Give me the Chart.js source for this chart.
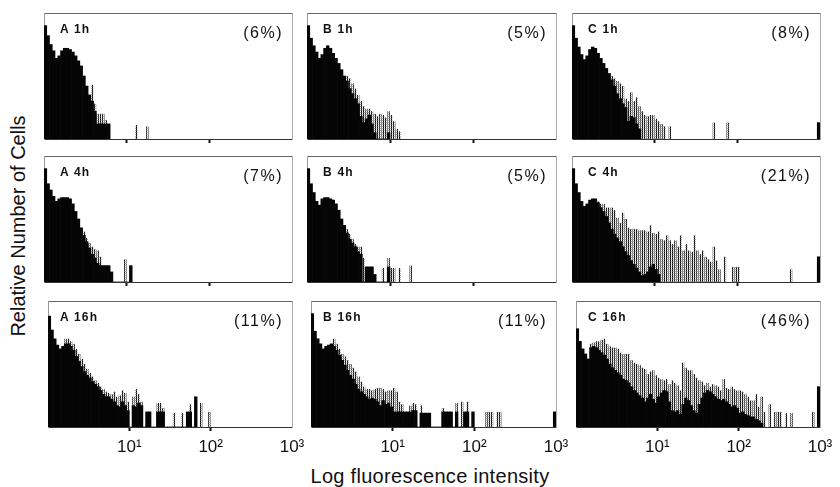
<!DOCTYPE html>
<html>
<head>
<meta charset="utf-8">
<script src="https://cdn.jsdelivr.net/npm/chart.js@4.4.1/dist/chart.umd.min.js"></script>
<style>
  body { margin: 0; background: #fff; }
  #page { position: relative; width: 840px; height: 487px; overflow: hidden; background: #fff; font-family: "Liberation Sans", Arial, sans-serif; color: #111; }
  .panel { position: absolute; }
  .name { position: absolute; font-size: 12px; font-weight: bold; line-height: 12px; letter-spacing: 1.2px; white-space: nowrap; }
  .pct { position: absolute; font-size: 16px; line-height: 16px; letter-spacing: 1.5px; white-space: nowrap; text-align: right; }
  #ytitle { position: absolute; left: 18px; top: 226px; transform: translate(-50%, -50%) rotate(-90deg); font-size: 20px; white-space: nowrap; }
  #xtitle { position: absolute; left: 430px; top: 466px; transform: translateX(-50%); font-size: 20px; line-height: 20px; letter-spacing: 0.3px; white-space: nowrap; }
</style>
</head>
<body>
<div id="page">
  <div id="ytitle">Relative Number of Cells</div>
  <div id="xtitle">Log fluorescence intensity</div>
</div>
<script>
// histogram channels: 30 bins per decade, 3 decades (10^0 .. 10^3)
const BINS_PER_DECADE = 30;
const LAST_BIN = 89;

const tickValues = [1, 2, 3];
const tickLabels = ['10¹', '10²', '10³'];

const panelNames = ['A 1h', 'B 1h', 'C 1h', 'A 4h', 'B 4h', 'C 4h', 'A 16h', 'B 16h', 'C 16h'];
const percentLabels = ['(6%)', '(5%)', '(8%)', '(7%)', '(5%)', '(21%)', '(11%)', '(11%)', '(46%)'];

// heights in % of panel height; "solid" = black part, "dots" = stippled total height
const a1hSolid = [90,82,75,70,64,66,70,72,72,71, 69,66,62,58,50,42,35,30,22,12, 12,12,12,12];
const a1hDots  = [0,0,0,0,0,0,0,0,0,0, 0,0,0,0,0,0,0,43,28,20, 20,20,15,0,0,0,0,0,0,0, 0,0,0,11,0,0,0,10];

const b1hSolid = [90,80,74,69,64,67,72,74,72,68, 64,60,55,50,46,40,36,32,28,18, 13,16,19,12,5,0,0,0,0,5];
const b1hDots  = [0,0,0,0,0,0,0,0,0,0, 0,0,0,0,50,48,44,40,35,30, 26,24,24,22,20,18,20,19,17,22, 19,14,8,6];

const c1hSolid = [90,80,73,67,63,66,71,73,72,68, 64,60,56,52,47,42,36,32,28,25, 14,18,17,12,8];
const c1hDots  = [0,0,0,0,0,0,0,0,0,0, 0,0,0,0,50,48,46,44,42,32, 30,37,30,33,26,22,19,18,19,19,
                  16,14,12,10,0,10,0,0,0,0, 0,0,0,0,0,0,0,0,0,0, 0,13,0,0,0,0,13];

const a4hSolid = [90,78,73,68,64,66,67,67,67,66, 62,56,50,43,37,32,27,22,19,15, 13,13,13,13,8,0,0,0,0,0, 0,13];
const a4hDots  = [0,0,0,0,0,0,0,0,0,0, 0,0,0,0,40,35,31,28,26,25, 20,0,0,0,0,0,0,0,0,18];

const b4hSolid = [90,78,71,64,61,66,67,67,66,65, 62,57,50,45,39,34,31,28,24,22, 0,12,12,12,6,0,0,0,0,12];
const b4hDots  = [0,0,0,0,0,0,0,0,0,0, 0,0,0,0,42,38,34,30,28,28, 19,0,0,0,0,0,0,11,0,19, 11,11,0,11,0,0,0,13];

const c4hSolid = [90,78,71,64,60,62,65,66,66,63, 59,56,52,47,42,38,35,32,28,24, 21,17,14,11,8,5,6,8,12,14, 10,6];
const c4hDots  = [0,0,0,0,0,0,0,0,0,64, 62,62,59,59,59,57,51,47,55,50, 43,42,42,42,41,41,41,40,45,39,
                  38,40,34,33,37,33,30,33,28,37, 25,30,25,24,37,25,22,25,20,18, 16,28,17,10,0,20,0,0,12,12,
                  12,0,0,0,0,0,0,0,0,0, 0,0,0,0,0,0,0,0,0,10];

const a16hSolid = [88,77,70,65,62,64,66,66,64,61, 56,52,48,44,41,39,36,34,32,29, 26,24,24,22,20,17,16,20,17,13,
                   0,17,16,19,17,0,12,12,0,0, 12,12,12,0,0,0,0,0,0,0, 0,12,12,0,24];
const a16hDots  = [0,0,0,0,0,0,70,70,68,66, 62,58,54,50,46,43,40,37,35,32, 30,28,27,26,28,24,25,29,27,20,
                   0,24,30,26,20,0,0,0,0,0, 19,19,15,0,0,0,11,0,0,11, 0,0,18,0,0,0,19,0,0,12];

const b16hSolid = [90,76,70,66,62,64,65,66,64,61, 57,53,49,45,41,38,34,30,28,26, 24,22,23,22,20,17,21,18,19,16,
                   12,12,12,12,12,12,12,13,13,0, 11,11,11,11,0,0,0,0,12,12, 12,12,0,12,0,0,12,12,0,12];
const b16hDots  = [0,0,0,0,0,0,0,0,70,66, 62,58,56,53,50,47,44,40,36,32, 30,30,29,30,31,31,30,28,29,29,
                   31,28,20,18,0,0,17,19,18,0, 17,0,0,0,0,0,0,0,15,0, 0,0,0,19,0,20,0,20,0,0,
                   0,0,0,0,12,12,12,0,12,12];

const c16hSolid = [78,68,62,58,54,63,64,63,61,59, 57,54,50,47,45,43,41,38,37,35, 32,29,27,25,23,20,23,26,22,19,
                   24,27,29,28,20,13,12,13,10,18, 23,21,17,13,11,18,23,27,29,28, 26,24,22,21,22,20,18,16,17,15,
                   11,12,10,9,8,8,6,5,3];
const c16hDots  = [0,0,0,0,0,66,67,68,68,69, 70,66,64,63,63,62,59,58,58,58, 53,51,50,49,47,46,42,44,45,41,
                   39,38,37,38,34,37,35,33,29,51, 47,45,45,42,39,37,36,33,35,32, 34,33,32,29,38,31,30,32,30,29,
                   29,28,26,24,21,21,26,16,24,12, 0,18,0,12,12,12,0,11,0,11, 0,0,0,0,0,0,0,12];

// off-scale (last channel) counts per panel
const edgeCounts = [0, 0, 13, 0, 0, 20, 0, 12, 32];

const solidSeries = [a1hSolid, b1hSolid, c1hSolid, a4hSolid, b4hSolid, c4hSolid, a16hSolid, b16hSolid, c16hSolid];
const dotSeries = [a1hDots, b1hDots, c1hDots, a4hDots, b4hDots, c4hDots, a16hDots, b16hDots, c16hDots];

// panel frames on the page
const cols = [{left: 44, right: 292}, {left: 307, right: 556}, {left: 572, right: 820}];
const rows = [{top: 13, bottom: 139}, {top: 156, bottom: 282}, {top: 301, bottom: 427}];
const PAD_L = 2, PAD_T = 2, PAD_R = 22, AXIS_H = 34;

Chart.defaults.font.family = '"Liberation Sans", Arial, sans-serif';

function toPoints(arr) {
    return arr.map((v, i) => ({x: (i + 0.5) / BINS_PER_DECADE, y: v}));
}

// stipple used for the dotted (grey) part of the histograms
function makeDots() {
    const c = document.createElement('canvas');
    c.width = 2; c.height = 2;
    const g = c.getContext('2d');
    g.fillStyle = '#000';
    g.fillRect(0, 0, 1, 1);
    g.fillStyle = '#444';
    g.fillRect(0, 1, 1, 1);
    g.fillStyle = '#aaa';
    g.fillRect(1, 1, 1, 1);
    return g.createPattern(c, 'repeat');
}

const page = document.getElementById('page');
const dots = makeDots();

for (let k = 0; k < 9; k++) {
    const row = Math.floor(k / 3), col = k % 3;
    const r = rows[row], c = cols[col];
    const w = c.right - c.left, h = r.bottom - r.top;

    const box = document.createElement('div');
    box.className = 'panel';
    box.style.left = (c.left - PAD_L) + 'px';
    box.style.top = (r.top - PAD_T) + 'px';
    const canvas = document.createElement('canvas');
    canvas.width = w + PAD_L + PAD_R;
    canvas.height = h + PAD_T + AXIS_H;
    canvas.style.width = canvas.width + 'px';
    canvas.style.height = canvas.height + 'px';
    box.appendChild(canvas);
    page.appendChild(box);

    const solid = toPoints(solidSeries[k]);
    if (edgeCounts[k] > 0) solid.push({x: (LAST_BIN + 0.5) / BINS_PER_DECADE, y: edgeCounts[k]});

    new Chart(canvas, {
        type: 'bar',
        data: {
            datasets: [{
                label: 'solid',
                data: solid,
                backgroundColor: '#050505',
                barPercentage: 1,
                categoryPercentage: 1,
                grouped: false,
                order: 1
            }, {
                label: 'dots',
                data: toPoints(dotSeries[k]),
                backgroundColor: dots,
                barPercentage: 0.85,
                categoryPercentage: 1,
                grouped: false,
                order: 2
            }]
        },
        options: {
            responsive: false,
            animation: false,
            events: [],
            layout: {padding: {left: PAD_L, right: PAD_R, top: PAD_T, bottom: 0}},
            plugins: {legend: {display: false}, tooltip: {enabled: false}},
            scales: {
                x: {
                    type: 'linear', min: 0, max: 3, offset: false,
                    afterFit: s => { s.height = AXIS_H; },
                    border: {display: true, color: '#333', dash: [2, 1], width: 1},
                    grid: {
                        display: true, drawOnChartArea: false, drawTicks: true, offset: false,
                        tickLength: 4, tickWidth: 2,
                        tickColor: ctx => (ctx.tick && (ctx.tick.value === 1 || ctx.tick.value === 2)) ? '#111' : 'rgba(0,0,0,0)'
                    },
                    ticks: {
                        display: row === 2, stepSize: 1, autoSkip: false, maxRotation: 0, padding: 6,
                        color: '#111', font: {size: 17},
                        callback: v => { const i = tickValues.indexOf(v); return i >= 0 ? tickLabels[i] : ''; }
                    }
                },
                xTop: {
                    axis: 'x', type: 'linear', position: 'top', min: 0, max: 3,
                    afterFit: s => { s.height = 0; },
                    ticks: {display: false}, grid: {display: false},
                    border: {display: true, color: '#666', dash: [2, 2], width: 1}
                },
                y: {
                    type: 'linear', min: 0, max: 100,
                    afterFit: s => { s.width = 0; },
                    ticks: {display: false}, grid: {display: false},
                    border: {display: true, color: '#999', dash: [1, 2], width: 1}
                },
                yRight: {
                    axis: 'y', type: 'linear', position: 'right', min: 0, max: 100,
                    afterFit: s => { s.width = 0; },
                    ticks: {display: false}, grid: {display: false},
                    border: {display: true, color: '#aaa', dash: [1, 2], width: 1}
                }
            }
        }
    });

    const name = document.createElement('div');
    name.className = 'name';
    name.textContent = panelNames[k];
    name.style.left = (c.left + 16) + 'px';
    name.style.top = (r.top + 10) + 'px';
    page.appendChild(name);

    const pct = document.createElement('div');
    pct.className = 'pct';
    pct.textContent = percentLabels[k];
    pct.style.right = (840 - c.right + 9) + 'px';
    pct.style.top = (r.top + 12) + 'px';
    page.appendChild(pct);
}
</script>
</body>
</html>
